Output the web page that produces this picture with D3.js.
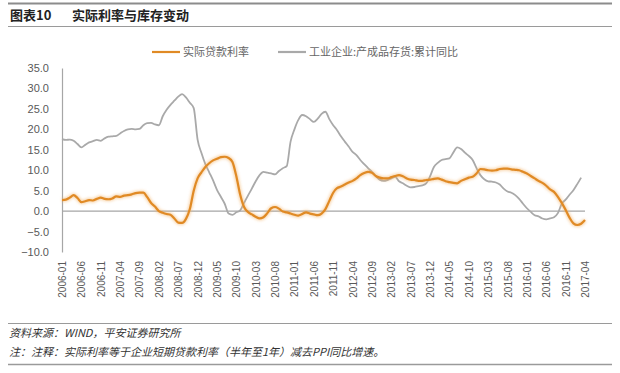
<!DOCTYPE html>
<html>
<head>
<meta charset="utf-8">
<script src="https://cdn.jsdelivr.net/npm/d3@7"></script>
<style>
  body { margin: 0; background: #fff; }
  svg { display: block; }
</style>
</head>
<body>
<div class="chart"></div>
<script>
//DATA
//months 2006-01 .. 2017-04
var months = [];
for (var y = 2006; y <= 2017; y++) {
  for (var m = 1; m <= 12; m++) {
    if (y === 2017 && m > 4) break;
    months.push(y + '-' + (m < 10 ? '0' + m : m));
  }
}

var seriesNames = ['实际贷款利率', '工业企业:产成品存货:累计同比'];

//real lending rate (orange)
var realRate = [
  2.7, 2.8, 3.3, 3.9, 3.2, 2.2, 2.4, 2.7, 2.6, 3.0, 3.3, 3.0,
  2.9, 3.1, 3.6, 3.5, 3.8, 3.9, 4.1, 4.4, 4.5, 4.5, 3.4, 2.0,
  1.1, 0.0, -0.4, -0.7, -0.9, -1.8, -2.8, -2.9, -1.9, 0.5, 5.0, 8.0,
  9.5, 10.8, 11.7, 12.4, 12.8, 13.2, 13.3, 13.0, 12.0, 8.5, 4.0, 1.0,
  -0.2, -0.8, -1.4, -1.8, -1.5, -0.5, 0.7, 1.0, 0.6, -0.1, -0.3, -0.6,
  -0.9, -1.1, -0.7, -0.3, -0.6, -0.8, -1.0, -0.6, 0.5, 2.5, 4.5, 5.6,
  6.0, 6.5, 7.0, 7.4, 8.0, 8.8, 9.3, 9.6, 9.4, 8.6, 8.2, 8.0,
  8.0, 8.3, 8.6, 8.8, 8.5, 8.0, 7.7, 7.6, 7.4, 7.4, 7.6, 7.7,
  7.9, 8.0, 7.7, 7.3, 7.1, 6.9, 6.8, 7.4, 7.8, 8.2, 8.4, 9.2,
  10.3, 10.2, 10.0, 9.9, 10.0, 10.3, 10.4, 10.4, 10.2, 10.1, 10.0, 9.6,
  9.2, 8.6, 8.0, 7.4, 6.9, 6.2, 5.3, 4.7, 3.5, 2.0, 0.3, -1.6,
  -3.0, -3.4, -3.1, -2.2
];

//finished goods inventory, cumulative yoy (gray)
var inventory = [
  17.6, 17.4, 17.5, 17.2, 16.4, 15.6, 16.2, 16.8, 17.1, 17.4, 17.2, 17.8,
  18.2, 18.3, 18.4, 19.0, 19.6, 20.0, 20.1, 20.0, 20.1, 21.0, 21.5, 21.6,
  21.2, 21.0, 23.2, 24.8, 26.0, 27.0, 28.0, 28.6, 27.8, 26.5, 25.2, 17.5,
  14.2, 11.5, 9.5, 7.5, 5.2, 3.5, 1.8, -0.6, -0.9, -0.3, 0.2, 2.0,
  3.8, 5.5, 7.3, 8.8, 9.6, 9.4, 9.2, 9.0, 9.8, 10.5, 11.0, 17.0,
  20.0, 22.3, 23.5, 23.2, 22.5, 21.8, 22.6, 23.8, 24.3, 22.5, 21.0, 19.8,
  18.3, 17.0, 15.8, 14.5, 13.7, 12.5, 11.5, 10.5, 9.6, 8.6, 7.7, 7.4,
  7.6, 8.0, 8.4, 7.3, 6.8, 6.2, 5.8, 5.9, 6.1, 6.3, 6.8, 8.5,
  10.8, 11.8, 12.5, 12.7, 12.9, 14.3, 15.6, 15.2, 14.3, 13.5, 12.5, 10.5,
  8.8, 7.8, 7.3, 7.2, 7.0, 6.5, 5.5, 4.8, 4.5, 3.9, 3.0, 1.8,
  0.7, -0.2, -1.0, -1.3, -1.8, -2.0, -1.8, -1.5, -0.5, 1.8, 2.8, 4.0,
  5.1, 6.6, 8.2
];

var yTicks = [-10, -5, 0, 5, 10, 15, 20, 25, 30, 35];
//every 5th month gets a label
var xTicks = months.filter(function(d, i){ return i % 5 === 0; });

//SETUP
var size = {'x' : 620, 'y' : 373};
var svg = d3.select('.chart')
  .append('svg')
    .attr('width', size.x)
    .attr('height', size.y);

var numFont = 'Liberation Sans, Arial, sans-serif';
var cjkFont = '"Noto Sans CJK SC", sans-serif';

//glow for orange line
var blur = svg.append('defs').append('filter')
  .attr('id', 'glow')
  .attr('x', '-5%').attr('y', '-20%')
  .attr('width', '110%').attr('height', '140%');
blur.append('feGaussianBlur').attr('stdDeviation', 1.6);

//HEADER
svg.append('line')
  .attr('x1', 8).attr('x2', 612).attr('y1', 3.5).attr('y2', 3.5)
  .attr('stroke', '#8c8c8c').attr('stroke-width', 2);
svg.append('line')
  .attr('x1', 8).attr('x2', 612).attr('y1', 26.5).attr('y2', 26.5)
  .attr('stroke', '#9a9a9a').attr('stroke-width', 1);
svg.append('text')
  .attr('x', 10).attr('y', 20)
  .attr('font-family', cjkFont).attr('font-weight', 'bold')
  .attr('font-size', 13).attr('fill', '#222')
  .text('图表10');
svg.append('text')
  .attr('x', 72).attr('y', 20)
  .attr('font-family', cjkFont).attr('font-weight', 'bold')
  .attr('font-size', 13).attr('fill', '#222')
  .text('实际利率与库存变动');

//SCALES
var x = d3.scalePoint().domain(months).range([62, 585]);
var yScale = d3.scaleLinear().domain([-10, 35]).range([252, 68]);

//y axis
var yAxis = svg.append('g')
  .attr('transform', 'translate(62,0)')
  .call(d3.axisLeft(yScale).tickValues(yTicks).tickFormat(d3.format('.1f'))
    .tickSizeInner(0).tickSizeOuter(0).tickPadding(13));
yAxis.select('.domain').attr('stroke', '#a6a6a6').attr('stroke-width', 1.2);
yAxis.selectAll('text')
  .attr('font-family', numFont).attr('font-size', 11).attr('fill', '#595959');

//x axis labels at the bottom
var xAxis = svg.append('g')
  .attr('transform', 'translate(0,256)')
  .call(d3.axisBottom(x).tickValues(xTicks).tickSize(0).tickPadding(0));
xAxis.select('.domain').remove();
xAxis.selectAll('text')
  .attr('font-family', numFont).attr('font-size', 10).attr('fill', '#595959')
  .attr('text-anchor', 'end')
  .attr('dy', '0.35em')
  .attr('transform', 'translate(0,5) rotate(-90)');

//zero line
svg.append('line')
  .attr('x1', x(months[0])).attr('x2', x(months[months.length - 1]))
  .attr('y1', yScale(0)).attr('y2', yScale(0))
  .attr('stroke', '#a6a6a6').attr('stroke-width', 1.2);

//LINES
var line = d3.line()
  .x(function(d, i){ return x(months[i]); })
  .y(function(d){ return yScale(d); })
  .curve(d3.curveMonotoneX);

svg.append('path')
  .datum(inventory)
  .attr('d', line)
  .attr('fill', 'none')
  .attr('stroke', '#a9a9a9')
  .attr('stroke-width', 1.8);

svg.append('path')
  .datum(realRate)
  .attr('d', line)
  .attr('fill', 'none')
  .attr('stroke', '#f3b46a')
  .attr('stroke-width', 4)
  .attr('opacity', 0.6)
  .attr('filter', 'url(#glow)');
svg.append('path')
  .datum(realRate)
  .attr('d', line)
  .attr('fill', 'none')
  .attr('stroke', '#e08a25')
  .attr('stroke-width', 2.2);

//LEGEND
var legend = [
  {name: seriesNames[0], color: '#e08a25', x: 152},
  {name: seriesNames[1], color: '#a9a9a9', x: 278}
];
legend.forEach(function(d){
  svg.append('line')
    .attr('x1', d.x).attr('x2', d.x + 28).attr('y1', 52).attr('y2', 52)
    .attr('stroke', d.color).attr('stroke-width', 2.2);
  svg.append('text')
    .attr('x', d.x + 31).attr('y', 56)
    .attr('font-family', cjkFont).attr('font-size', 11).attr('fill', '#666')
    .text(d.name);
});

//FOOTER
svg.append('line')
  .attr('x1', 8).attr('x2', 612).attr('y1', 323.5).attr('y2', 323.5)
  .attr('stroke', '#9a9a9a').attr('stroke-width', 1);
svg.append('line')
  .attr('x1', 8).attr('x2', 612).attr('y1', 364.5).attr('y2', 364.5)
  .attr('stroke', '#9a9a9a').attr('stroke-width', 1.5);
svg.append('text')
  .attr('x', 9).attr('y', 337)
  .attr('font-family', cjkFont).attr('font-style', 'italic')
  .attr('font-size', 11).attr('fill', '#333')
  .text('资料来源：WIND，平安证券研究所');
svg.append('text')
  .attr('x', 9).attr('y', 356)
  .attr('font-family', cjkFont).attr('font-style', 'italic')
  .attr('font-size', 11).attr('fill', '#333')
  .text('注：注释：实际利率等于企业短期贷款利率（半年至1年）减去PPI同比增速。');
</script>
</body>
</html>
